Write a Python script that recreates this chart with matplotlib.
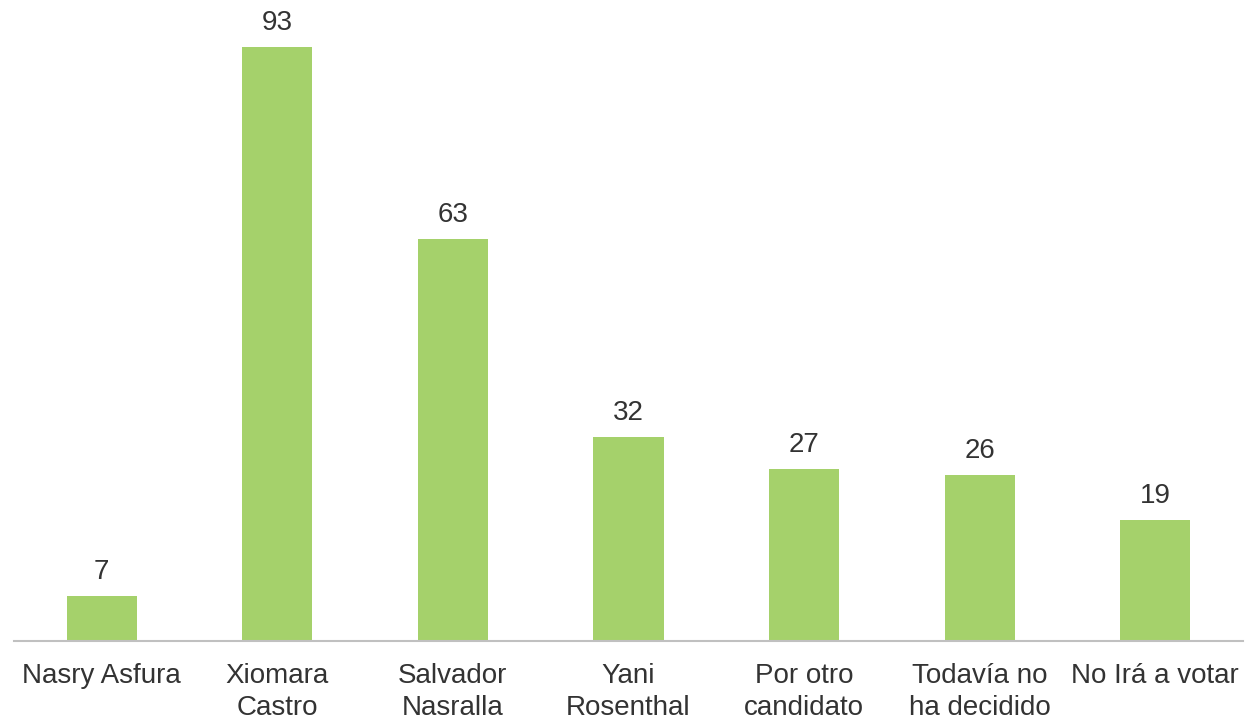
import matplotlib.pyplot as plt

# données
categories = ['Nasry Asfura', 'Xiomara\nCastro', 'Salvador\nNasralla', 'Yani\nRosenthal',
              'Por otro\ncandidato', 'Todavía no\nha decidido', 'No Irá a votar']
valeurs = [7, 93, 63, 32, 27, 26, 19]

plt.rcParams['font.family'] = ['Liberation Sans', 'DejaVu Sans']

fig = plt.figure(figsize=(12.47, 7.23), dpi=100)
ax = fig.add_axes([0.0112, 0.1134, 0.9856, 0.8866])

x = range(len(categories))
bars = ax.bar(x, valeurs, width=0.4, color='#a5d16b')
for b, v in zip(bars, valeurs):
    ax.annotate(str(v), (b.get_x() + b.get_width() / 2, v), xytext=(0, 8),
                textcoords='offset points', ha='center', va='bottom',
                fontsize=20, color='#333333')

ax.set_xlim(-0.5, len(categories) - 0.5)
ax.set_ylim(0, 100.4)
ax.set_xticks(list(x))
ax.set_xticklabels(categories, fontsize=20, color='#333333', linespacing=1.3)
ax.tick_params(axis='x', length=0, pad=16)
ax.set_yticks([])
for s in ['top', 'right', 'left']:
    ax.spines[s].set_visible(False)
ax.spines['bottom'].set_color('#c0c0c0')
ax.spines['bottom'].set_linewidth(1.5)

fig.savefig('out.png', dpi=100)
